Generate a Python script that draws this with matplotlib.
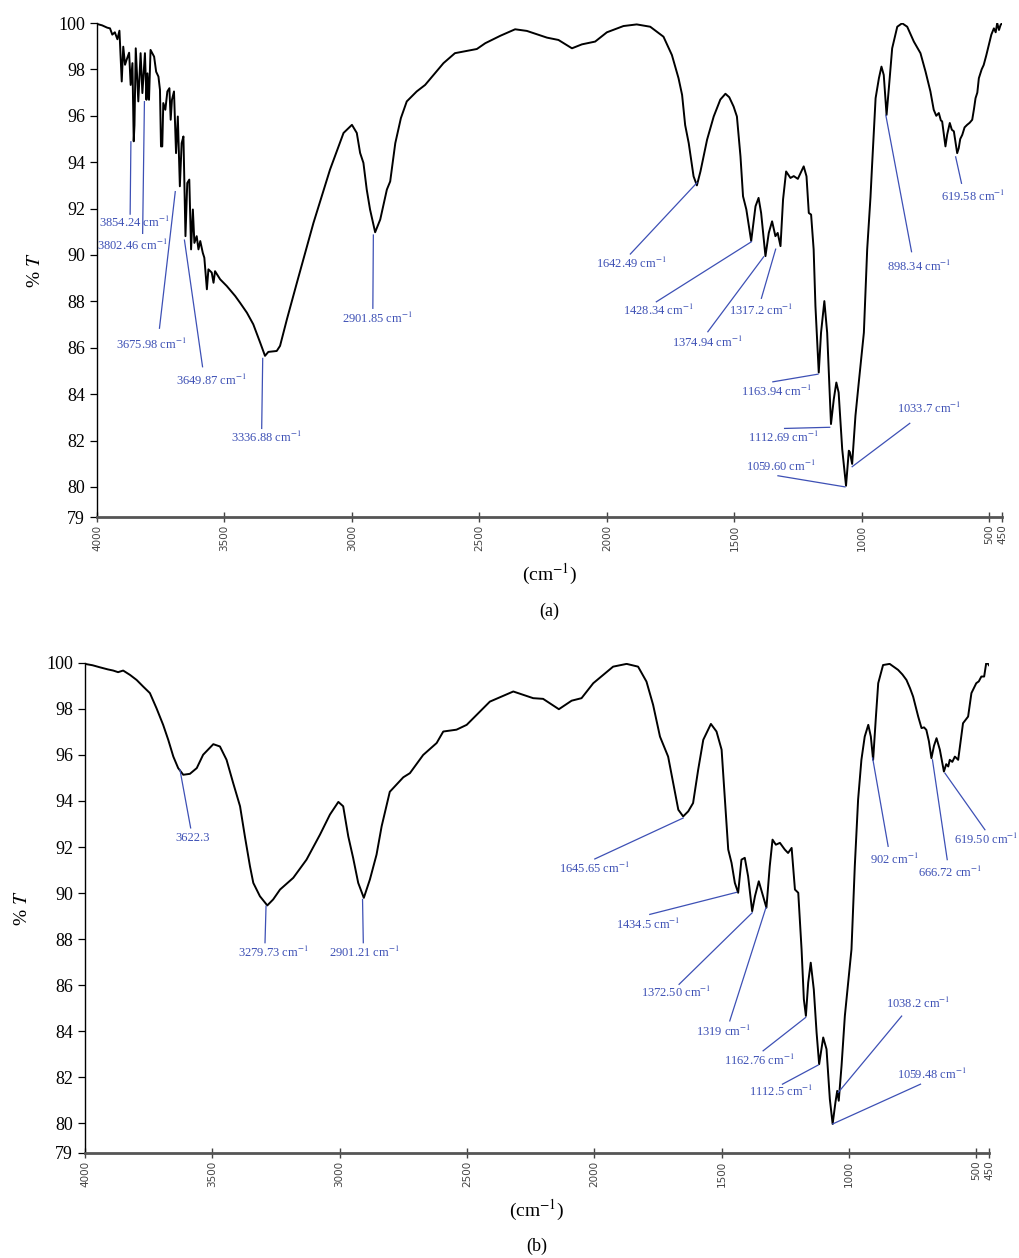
import matplotlib
matplotlib.use('Agg')
import matplotlib.pyplot as plt

plt.rcParams['font.family'] = 'Liberation Serif'
plt.rcParams['mathtext.fontset'] = 'stix'

# ---- spectrum (a) : wavenumber (cm-1), %T
wn_a = [4000, 3980, 3960, 3949, 3940, 3930, 3920, 3912, 3903, 3897, 3890, 3884, 3874, 3868,
        3861, 3856, 3853, 3848, 3838, 3829, 3822, 3812, 3806, 3802, 3796, 3790, 3776, 3768,
        3759, 3753, 3749, 3744, 3740, 3732, 3724, 3716, 3711, 3706, 3698, 3690, 3683, 3675,
        3668, 3661, 3653, 3646, 3638, 3631, 3624, 3618, 3609, 3602, 3595, 3585, 3579, 3569,
        3563, 3550, 3543, 3537, 3517, 3491, 3458, 3439, 3412, 3387, 3360, 3341, 3328, 3295,
        3282, 3255, 3216, 3151, 3086, 3033, 3000, 2981, 2968, 2955, 2942, 2929, 2909, 2889,
        2863, 2850, 2830, 2808, 2785, 2746, 2713, 2680, 2641, 2596, 2549, 2510, 2477, 2418,
        2360, 2314, 2235, 2190, 2137, 2098, 2046, 2000, 1935, 1883, 1830, 1778, 1745, 1719,
        1705, 1693, 1679, 1660, 1647, 1633, 1607, 1581, 1555, 1535, 1520, 1503, 1490, 1476,
        1466, 1453, 1434, 1417, 1405, 1395, 1378, 1365, 1352, 1339, 1330, 1319, 1309, 1297,
        1280, 1267, 1251, 1228, 1217, 1208, 1199, 1189, 1182, 1169, 1160, 1147, 1136, 1121,
        1110, 1100, 1091, 1077, 1062, 1051, 1047, 1038, 1025, 1012, 992, 979, 966, 960,
        946, 933, 923, 914, 903, 894, 881, 861, 842, 822, 796, 770, 750, 731,
        718, 708, 698, 690, 685, 672, 665, 655, 647, 639, 626, 620, 614, 606,
        597, 587, 577, 567, 560, 554, 547, 541, 530, 522, 512, 502, 492, 482,
        475, 469, 462, 456, 450]
t_a = [99.96, 99.9, 99.8, 99.77, 99.5, 99.6, 99.3, 99.67, 97.48, 98.98, 98.2, 98.41, 98.72, 97.33,
       98.27, 94.9, 95.6, 98.91, 96.62, 98.7, 96.98, 98.7, 96.69, 97.83, 96.69, 98.84, 98.55, 97.9,
       97.69, 97.12, 94.68, 94.68, 96.55, 96.26, 97.05, 97.19, 95.83, 96.69, 97.05, 94.39, 95.97, 92.96,
       94.82, 95.11, 90.81, 93.1, 93.25, 90.24, 91.96, 90.52, 90.81, 90.24, 90.6, 90.09, 89.88, 88.52,
       89.38, 89.24, 88.8, 89.3, 88.95, 88.66, 88.23, 87.94, 87.51, 87.01, 86.22, 85.65, 85.82, 85.86,
       86.08, 87.23, 88.8, 91.38, 93.68, 95.26, 95.61, 95.26, 94.4, 93.97, 92.82, 91.96, 90.98, 91.53,
       92.82, 93.17, 94.82, 95.9, 96.62, 97.05, 97.33, 97.76, 98.27, 98.7, 98.8, 98.88, 99.13, 99.45,
       99.73, 99.66, 99.37, 99.27, 98.91, 99.08, 99.2, 99.6, 99.87, 99.94, 99.84, 99.41, 98.62, 97.62,
       96.9, 95.6, 94.82, 93.39, 93.0, 93.6, 94.97, 95.97, 96.7, 96.95, 96.8, 96.4, 95.97, 94.25,
       92.53, 91.96, 90.6, 92.1, 92.46, 91.81, 89.95, 90.95, 91.45, 90.81, 90.95, 90.38, 92.39, 93.6,
       93.32, 93.4, 93.28, 93.82, 93.39, 91.81, 91.74, 90.24, 87.8, 84.93, 86.65, 88.01, 86.65, 82.71,
       83.78, 84.5, 84.07, 81.63, 80.05, 81.56, 81.5, 80.99, 83.07, 84.5, 86.65, 90.24, 92.5, 93.82,
       96.76, 97.62, 98.12, 97.76, 96.04, 97.19, 98.91, 99.84, 99.99, 99.84, 99.2, 98.7, 97.9, 97.05,
       96.26, 96.0, 96.12, 95.8, 95.76, 94.68, 95.2, 95.69, 95.4, 95.33, 94.39, 94.6, 95.0, 95.18,
       95.5, 95.61, 95.7, 95.83, 96.3, 96.76, 97.0, 97.62, 98.0, 98.19, 98.6, 99.05, 99.5, 99.77,
       99.6, 100.0, 99.7, 99.91, 100.0]

# ---- spectrum (b)
wn_b = [4000, 3970, 3941, 3910, 3889, 3870, 3850, 3823, 3797, 3771, 3745, 3719, 3693, 3673,
        3653, 3634, 3614, 3588, 3561, 3536, 3496, 3470, 3444, 3418, 3391, 3372, 3352, 3339,
        3313, 3284, 3261, 3234, 3182, 3130, 3077, 3038, 3005, 2986, 2966, 2947, 2927, 2905,
        2881, 2855, 2835, 2803, 2750, 2724, 2672, 2619, 2593, 2541, 2501, 2410, 2318, 2240,
        2201, 2139, 2089, 2050, 2004, 1926, 1873, 1828, 1795, 1769, 1742, 1710, 1690, 1670,
        1651, 1631, 1612, 1592, 1572, 1542, 1520, 1500, 1487, 1474, 1461, 1448, 1435, 1422,
        1409, 1396, 1380, 1369, 1354, 1341, 1324, 1311, 1300, 1287, 1271, 1252, 1239, 1225,
        1212, 1199, 1186, 1177, 1169, 1160, 1150, 1138, 1127, 1117, 1101, 1088, 1075, 1064,
        1053, 1046, 1040, 1029, 1016, 1003, 990, 977, 964, 951, 938, 924, 914, 905,
        894, 885, 866, 840, 807, 790, 774, 760, 748, 728, 715, 705, 696, 686,
        676, 666, 656, 643, 627, 618, 610, 604, 594, 584, 571, 552, 532, 519,
        500, 490, 480, 469, 460, 450]
t_b = [99.96, 99.9, 99.81, 99.72, 99.67, 99.6, 99.67, 99.48, 99.26, 98.97, 98.69, 98.03, 97.31, 96.66,
       95.93, 95.43, 95.14, 95.18, 95.43, 96.01, 96.47, 96.37, 95.79, 94.78, 93.77, 92.46, 91.16, 90.44,
       89.86, 89.46, 89.72, 90.15, 90.66, 91.45, 92.54, 93.41, 93.96, 93.77, 92.46, 91.53, 90.44, 89.79,
       90.59, 91.67, 92.9, 94.4, 95.03, 95.21, 96.0, 96.52, 97.02, 97.1, 97.31, 98.32, 98.76, 98.47,
       98.44, 97.99, 98.36, 98.47, 99.12, 99.84, 99.96, 99.84, 99.19, 98.18, 96.8, 95.93, 94.78, 93.62,
       93.33, 93.55, 93.91, 95.36, 96.66, 97.35, 97.02, 96.23, 94.06, 91.89, 91.31, 90.44, 90.01, 91.45,
       91.53, 90.73, 89.21, 89.86, 90.51, 90.01, 89.36, 91.16, 92.32, 92.1, 92.18, 91.89, 91.74, 91.96,
       90.15, 90.01, 87.55, 85.38, 84.66, 86.1, 86.97, 85.81, 83.93, 82.56, 83.72, 83.21, 81.04, 79.96,
       80.9, 81.4, 80.97, 82.49, 84.66, 86.1, 87.55, 91.16, 94.06, 95.79, 96.8, 97.31, 96.8, 95.79,
       97.67, 99.12, 99.91, 99.96, 99.7, 99.5, 99.26, 98.9, 98.54, 97.67, 97.17, 97.2, 97.09, 96.6,
       95.86, 96.4, 96.73, 96.23, 95.28, 95.6, 95.5, 95.79, 95.7, 95.93, 95.79, 97.38, 97.67, 98.69,
       99.12, 99.2, 99.41, 99.41, 100.06, 99.9]

# ---- peak labels: text, peak end of leader, far end of leader, text centre
labels_a = ['3854.24 cm$^{-1}$', '3802.46 cm$^{-1}$', '3675.98 cm$^{-1}$', '3649.87 cm$^{-1}$',
            '3336.88 cm$^{-1}$', '2901.85 cm$^{-1}$', '1642.49 cm$^{-1}$', '1428.34 cm$^{-1}$',
            '1374.94 cm$^{-1}$', '1317.2 cm$^{-1}$', '1163.94 cm$^{-1}$', '1112.69 cm$^{-1}$',
            '1059.60 cm$^{-1}$', '1033.7 cm$^{-1}$', '898.34 cm$^{-1}$', '619.58 cm$^{-1}$']
peak_a = [(3867, 94.88), (3814, 96.61), (3693, 92.73), (3657, 90.64), (3350, 85.54), (2916, 90.86),
          (1647, 93.11), (1433, 90.57), (1385, 89.92), (1338, 90.25), (1172, 84.86), (1126, 82.57),
          (1066, 80.0), (1038, 80.87), (906, 96.03), (632, 94.23)]
end_a = [(3870, 91.76), (3821, 90.93), (3755, 86.84), (3586, 85.18), (3354, 82.52), (2918, 87.7),
         (1908, 90.04), (1806, 87.98), (1604, 86.69), (1394, 88.13), (1349, 84.53), (1303, 82.52),
         (1329, 80.48), (812, 82.74), (805, 90.14), (609, 93.09)]
text_a = [(3854, 91.39), (3860, 90.43), (3788, 86.12), (3553, 84.58), (3337, 82.13), (2901, 87.27),
          (1904, 89.64), (1800, 87.59), (1604, 86.23), (1394, 87.59), (1335, 84.1), (1309, 82.13),
          (1316, 80.87), (734, 83.39), (773, 89.52), (564, 92.51)]

labels_b = ['3622.3', '3279.73 cm$^{-1}$', '2901.21 cm$^{-1}$', '1645.65 cm$^{-1}$',
            '1434.5 cm$^{-1}$', '1372.50 cm$^{-1}$', '1319 cm$^{-1}$', '1162.76 cm$^{-1}$',
            '1112.5 cm$^{-1}$', '1038.2 cm$^{-1}$', '1059.48 cm$^{-1}$', '902 cm$^{-1}$',
            '666.72 cm$^{-1}$', '619.50 cm$^{-1}$']
peak_b = [(3627, 95.36), (3289, 89.43), (2910, 89.72), (1651, 93.26), (1441, 90.03), (1380, 89.14),
          (1326, 89.36), (1170, 84.59), (1121, 82.52), (1042, 81.33), (1064, 79.96), (907, 95.87),
          (672, 95.79), (623, 95.21)]
end_b = [(3585, 92.83), (3293, 87.84), (2907, 87.84), (1998, 91.48), (1782, 89.07), (1667, 86.03),
         (1468, 84.44), (1337, 83.14), (1261, 81.69), (793, 84.65), (719, 81.69), (846, 92.03),
         (614, 91.45), (466, 92.75)]
text_b = [(3577, 92.39), (3261, 87.41), (2901, 87.41), (1998, 91.06), (1788, 88.63), (1677, 85.67),
          (1494, 84.0), (1353, 82.7), (1265, 81.36), (728, 85.21), (676, 82.13), (820, 91.48),
          (604, 90.88), (460, 92.32)]

x_ticks = [4000, 3500, 3000, 2500, 2000, 1500, 1000, 500, 450]
y_ticks = [78.7, 80, 82, 84, 86, 88, 90, 92, 94, 96, 98, 100]
y_ticklabels = ['79', '80', '82', '84', '86', '88', '90', '92', '94', '96', '98', '100']

blue = '#3d50b5'

fig = plt.figure(figsize=(10.2, 12.58), dpi=100)
ax_a = fig.add_axes([0.0951, 0.589, 0.8873, 0.3927])
ax_b = fig.add_axes([0.0833, 0.0835, 0.8863, 0.3895])


def draw_panel(ax, wn, t, labels, peaks, ends, texts, tag, ylab_pad):
    ax.plot(wn, t, color='black', lw=1.4, solid_joinstyle='round')
    for lab, p, e, tx in zip(labels, peaks, ends, texts):
        ax.plot([p[0], e[0]], [p[1], e[1]], color=blue, lw=0.9)
        ax.text(tx[0], tx[1], lab, color=blue, fontsize=9, ha='center', va='center')

    ax.set_xlim(4000, 450)
    ax.set_ylim(78.7, 100)
    ax.set_xticks(x_ticks)
    ax.set_xticklabels([str(v) for v in x_ticks], rotation=90, fontsize=7.5,
                       family='DejaVu Sans', color='#444444')
    ax.set_yticks(y_ticks)
    ax.set_yticklabels(y_ticklabels, fontsize=13)
    ax.tick_params(axis='x', direction='inout', length=7, width=1, color='#444444', pad=2)
    ax.tick_params(axis='y', direction='out', length=5, width=0.9)
    for s in ['top', 'right']:
        ax.spines[s].set_visible(False)
    ax.spines['left'].set_linewidth(1)
    ax.spines['bottom'].set_linewidth(2)
    ax.spines['bottom'].set_color('#555555')
    ax.set_xlabel('(cm$^{-1}$)', fontsize=14, labelpad=8)
    ax.set_ylabel('% $T$', fontsize=14, labelpad=ylab_pad)
    ax.text(0.5, -0.19, tag, transform=ax.transAxes, ha='center', va='center', fontsize=13)


draw_panel(ax_a, wn_a, t_a, labels_a, peak_a, end_a, text_a, '(a)', 10)
draw_panel(ax_b, wn_b, t_b, labels_b, peak_b, end_b, text_b, '(b)', 11)

fig.savefig('out.png', dpi=100)
